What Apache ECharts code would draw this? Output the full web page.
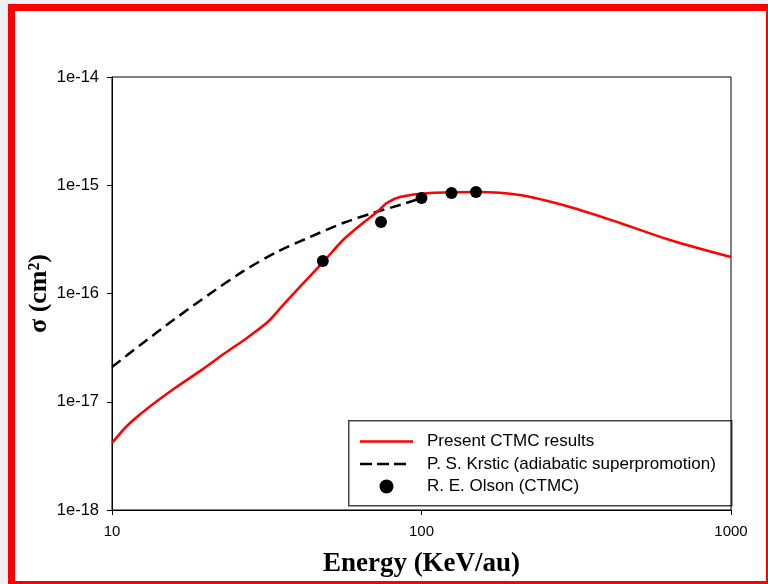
<!DOCTYPE html>
<html>
<head>
<meta charset="utf-8">
<script src="https://cdn.jsdelivr.net/npm/echarts@6/dist/echarts.min.js"></script>
<style>
html,body{margin:0;padding:0;width:768px;height:584px;overflow:hidden;background:#eef0f4;}
#frame{position:absolute;left:8px;top:4px;width:765px;height:584px;box-sizing:border-box;border:7px solid #ff0000;background:#fff;}
#chart{position:absolute;left:0;top:0;width:768px;height:584px;}
</style>
</head>
<body>
<div id="frame"></div>
<div id="chart"></div>
<script>
// Present CTMC results (red solid)
const ctmcEnergy = [10, 11.26, 13.07, 15.94, 19.44, 23.13, 27.5, 31.9, 36.1, 48.1, 55.8, 64.7, 71.8, 77.3, 85.2, 106.5, 151, 208, 302, 438, 635, 1000];
const ctmcSigma  = [4.16e-18, 6.1e-18, 8.75e-18, 1.33e-17, 1.96e-17, 2.8e-17, 3.95e-17, 5.48e-17, 8.11e-17, 1.95e-16, 3.12e-16, 4.48e-16, 5.66e-16, 6.86e-16, 7.78e-16, 8.48e-16, 8.67e-16, 8.13e-16, 6.3e-16, 4.48e-16, 3.12e-16, 2.17e-16];
// P. S. Krstic (black dashed)
const krsticEnergy = [10, 12.44, 15.94, 20.89, 26.5, 34.1, 43.6, 55.8, 69.7, 87.1, 100];
const krsticSigma  = [2.09e-17, 3.4e-17, 5.8e-17, 1.01e-16, 1.6e-16, 2.42e-16, 3.32e-16, 4.48e-16, 5.54e-16, 6.71e-16, 7.62e-16];
// R. E. Olson (CTMC) points
const olsonEnergy = [48, 74, 100, 125, 150];
const olsonSigma  = [2.0e-16, 4.58e-16, 7.62e-16, 8.48e-16, 8.67e-16];

const seriesNames = ['Present CTMC results', 'P. S. Krstic (adiabatic superpromotion)', 'R. E. Olson (CTMC)'];
const xTitle = 'Energy (KeV/au)';
const yTitle = 'σ (cm²)';

const zip = (a, b) => a.map((v, i) => [v, b[i]]);

// legend icons (box 53 x 14; tiny corner specks fix the bounding box)
const corners = 'M0,0L0.01,0L0,0.01Z M53,14L52.99,14L53,13.99Z ';
const solidIcon = 'path://' + corners + 'M0,5.75L53,5.75L53,8.25L0,8.25Z';
const dashIcon = 'path://' + corners + 'M0,5.75L12,5.75L12,8.25L0,8.25Z M17,5.75L29,5.75L29,8.25L17,8.25Z M34,5.75L46,5.75L46,8.25L34,8.25Z';

const chart = echarts.init(document.getElementById('chart'), null, {renderer: 'canvas'});
chart.setOption({
  backgroundColor: 'transparent',
  animation: false,
  grid: {left: 112, top: 77, right: 37, bottom: 74, show: true, borderColor: '#000', borderWidth: 1, backgroundColor: 'transparent'},
  xAxis: {
    type: 'log', logBase: 10, min: 10, max: 1000,
    name: xTitle, nameLocation: 'middle', nameGap: 41,
    nameTextStyle: {fontFamily: 'Liberation Serif', fontWeight: 'bold', fontSize: 27, color: '#000'},
    axisLine: {show: true, lineStyle: {color: '#000', width: 1}},
    axisTick: {show: true, inside: false, length: 5, lineStyle: {color: '#000'}},
    minorTick: {show: false},
    splitLine: {show: false},
    axisLabel: {fontFamily: 'Liberation Sans', fontSize: 15, color: '#000', margin: 14,
      formatter: v => String(Math.round(v))}
  },
  yAxis: {
    type: 'log', logBase: 10, min: 1e-18, max: 1e-14,
    name: yTitle, nameLocation: 'middle', nameGap: 60, nameRotate: 90, nameMoveOverlap: false,
    nameTextStyle: {fontFamily: 'Liberation Serif', fontWeight: 'bold', fontSize: 26, color: '#000'},
    axisLine: {show: true, lineStyle: {color: '#000', width: 1}},
    axisTick: {show: true, inside: false, length: 5, lineStyle: {color: '#000'}},
    splitLine: {show: false},
    axisLabel: {fontFamily: 'Liberation Sans', fontSize: 16.5, color: '#000', margin: 13,
      formatter: v => '1e' + Math.round(Math.log10(v))}
  },
  legend: {
    orient: 'vertical', left: 360, top: 433, itemWidth: 53, itemHeight: 14, itemGap: 5.5,
    padding: 0,
    data: [
      {name: seriesNames[0], icon: solidIcon, itemStyle: {color: '#ff0000'}},
      {name: seriesNames[1], icon: dashIcon, itemStyle: {color: '#000'}},
      {name: seriesNames[2], icon: 'circle', itemStyle: {color: '#000'}}
    ],
    textStyle: {fontFamily: 'Liberation Sans', fontSize: 17, lineHeight: 14, color: '#000', padding: [0, 0, 0, 9]}
  },
  graphic: [{
    type: 'rect', left: 348, top: 420, z: -1,
    shape: {width: 383, height: 85},
    style: {fill: '#fff', stroke: '#444', lineWidth: 1.5}
  }],
  series: [
    {name: seriesNames[0], type: 'line', data: zip(ctmcEnergy, ctmcSigma), symbol: 'none', smooth: 0.3,
     lineStyle: {color: '#ff0000', width: 2.5}, itemStyle: {color: '#ff0000'}, z: 3},
    {name: seriesNames[1], type: 'line', data: zip(krsticEnergy, krsticSigma), symbol: 'none', smooth: 0.3,
     lineStyle: {color: '#000', width: 2.5, type: [11, 6]}, itemStyle: {color: '#000'}, z: 2},
    {name: seriesNames[2], type: 'scatter', data: zip(olsonEnergy, olsonSigma), symbol: 'circle', symbolSize: 12,
     itemStyle: {color: '#000', opacity: 1}, z: 4}
  ]
});
</script>
</body>
</html>
